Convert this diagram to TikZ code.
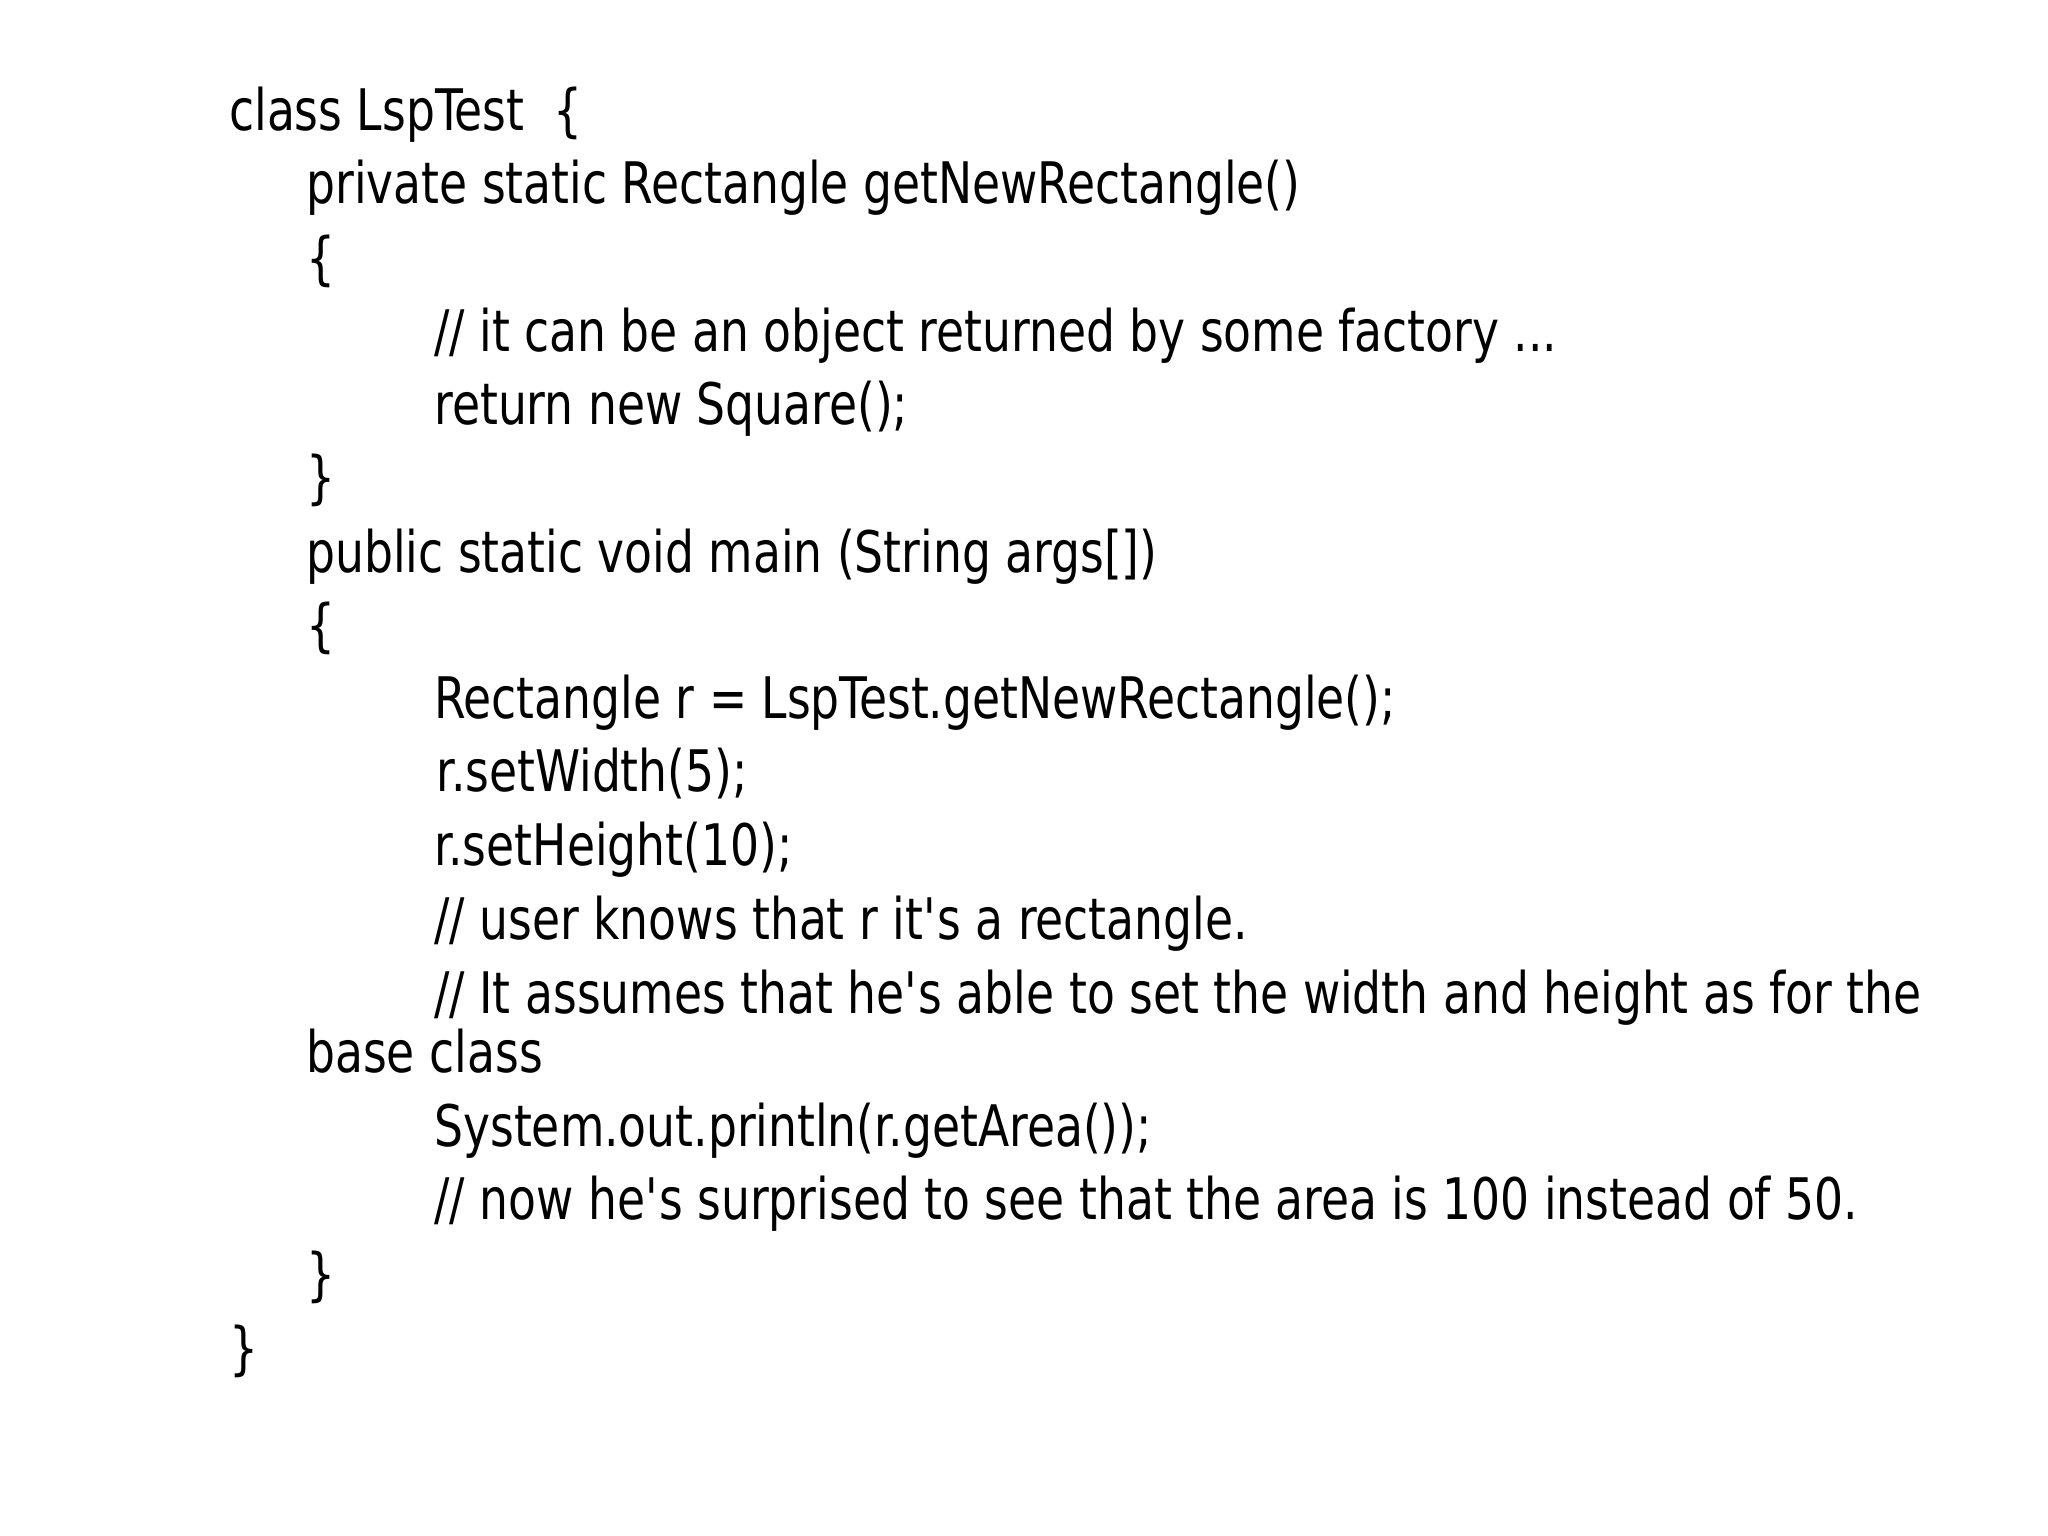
\documentclass[tikz,border=0pt]{standalone}
\usepackage{fontspec}
\setmainfont[FakeStretch=0.885]{DejaVu Sans Condensed}
\newcommand{\apo}{\textquotesingle}
\begin{document}
\begin{tikzpicture}[x=0.01306cm,y=-0.01306cm,
  code/.style={anchor=base west,inner sep=0pt,font=\fontsize{16.3}{20}\selectfont}]
\useasboundingbox (0,0) rectangle (1568,1176);
\node[code] (l1) at (175,100) {class LspTest\ \ \{};
\node[code] (l2) at (234,156) {private static Rectangle getNewRectangle()};
\node[code] (l3) at (234,213) {\{};
\node[code] (l4) at (332,269) {// it can be an object returned by some factory ...};
\node[code] (l5) at (332,325) {return new Square();};
\node[code] (l6) at (234,381) {\}};
\node[code] (l7) at (234,438) {public static void main (String args[])};
\node[code] (l8) at (234,494) {\{};
\node[code] (l9) at (332,550) {Rectangle r = LspTest.getNewRectangle();};
\node[code] (l10) at (334,606) {r.setWidth(5);};
\node[code] (l11) at (332,663) {r.setHeight(10);};
\node[code] (l12) at (332,719) {// user knows that r it\apo s a rectangle.};
\node[code] (l13) at (332,776) {// It assumes that he\apo s able to set the width and height as for the};
\node[code] (l14) at (234,821) {base class};
\node[code] (l15) at (332,878) {System.out.println(r.getArea());};
\node[code] (l16) at (332,934) {// now he\apo s surprised to see that the area is 100 instead of 50.};
\node[code] (l17) at (234,991) {\}};
\node[code] (l18) at (175,1048) {\}};
\end{tikzpicture}
\end{document}
